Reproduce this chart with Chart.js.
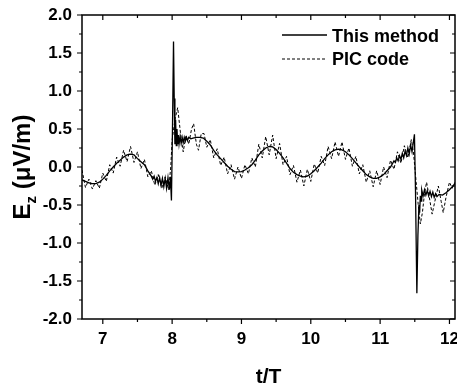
<!DOCTYPE html>
<html>
<head>
<meta charset="utf-8">
<script src="https://cdn.jsdelivr.net/npm/chart.js@4/dist/chart.umd.min.js"></script>
<style>
  html, body { margin: 0; padding: 0; background: #fff; }
  #wrap { width: 457px; height: 383px; }
</style>
</head>
<body>
<div id="wrap"><canvas id="ezChart" width="457" height="383"></canvas></div>
<script>
// "This method" (solid)
const methodT = [
  6.70, 6.75, 6.80, 6.85, 6.90, 6.95, 7.00, 7.05, 7.10, 7.15, 7.20, 7.25, 7.30, 7.35, 7.40, 7.45,
  7.50, 7.55, 7.60, 7.65, 7.70, 7.72, 7.74, 7.76, 7.78, 7.80, 7.82, 7.84, 7.86, 7.88, 7.90, 7.92,
  7.94, 7.96, 7.975, 7.99, 8.005, 8.02, 8.03, 8.04, 8.05, 8.06, 8.07, 8.08, 8.09, 8.10, 8.115, 8.13,
  8.145, 8.16, 8.175, 8.19, 8.205, 8.22, 8.24, 8.27, 8.30, 8.35, 8.40, 8.45, 8.50, 8.55, 8.60, 8.65,
  8.70, 8.75, 8.80, 8.85, 8.90, 8.95, 9.00, 9.05, 9.10, 9.15, 9.20, 9.25, 9.30, 9.35, 9.40, 9.45,
  9.50, 9.55, 9.60, 9.65, 9.70, 9.75, 9.80, 9.85, 9.90, 9.95, 10.00, 10.05, 10.10, 10.15, 10.20, 10.25,
  10.30, 10.35, 10.40, 10.45, 10.50, 10.55, 10.60, 10.65, 10.70, 10.75, 10.80, 10.85, 10.90, 10.95, 11.00, 11.05,
  11.10, 11.15, 11.20, 11.22, 11.24, 11.26, 11.28, 11.30, 11.32, 11.34, 11.36, 11.38, 11.40, 11.42, 11.44, 11.46,
  11.48, 11.495, 11.51, 11.53, 11.545, 11.56, 11.57, 11.58, 11.59, 11.60, 11.62, 11.64, 11.66, 11.68, 11.70, 11.72,
  11.74, 11.76, 11.78, 11.80, 11.82, 11.85, 11.90, 11.95, 12.00, 12.05, 12.08
];
const methodE = [
  -0.17, -0.19, -0.21, -0.22, -0.22, -0.20, -0.16, -0.11, -0.05, 0.00, 0.05, 0.09, 0.13, 0.16, 0.17, 0.16,
  0.11, 0.07, 0.03, -0.05, -0.12, -0.16, -0.12, -0.19, -0.14, -0.22, -0.14, -0.24, -0.15, -0.26, -0.15, -0.28,
  -0.14, -0.30, -0.13, -0.44, 0.50, 1.65, 0.90, 0.30, 0.62, 0.28, 0.50, 0.30, 0.42, 0.30, 0.40, 0.31,
  0.39, 0.32, 0.39, 0.34, 0.39, 0.35, 0.39, 0.37, 0.38, 0.39, 0.39, 0.38, 0.34, 0.29, 0.22, 0.16,
  0.11, 0.06, 0.01, -0.03, -0.06, -0.065, -0.06, -0.04, -0.01, 0.03, 0.09, 0.16, 0.21, 0.25, 0.27, 0.265,
  0.23, 0.18, 0.12, 0.05, -0.02, -0.07, -0.10, -0.12, -0.13, -0.12, -0.09, -0.05, 0.00, 0.05, 0.11, 0.16,
  0.20, 0.225, 0.235, 0.225, 0.20, 0.16, 0.11, 0.055, 0.00, -0.05, -0.10, -0.13, -0.15, -0.15, -0.13, -0.10,
  -0.05, 0.00, 0.08, 0.06, 0.12, 0.08, 0.15, 0.10, 0.18, 0.12, 0.21, 0.15, 0.25, 0.17, 0.29, 0.20,
  0.33, 0.43, -0.30, -1.66, -0.90, -0.50, -0.60, -0.38, -0.45, -0.30, -0.38, -0.30, -0.37, -0.31, -0.38, -0.32,
  -0.39, -0.33, -0.40, -0.35, -0.39, -0.36, -0.37, -0.34, -0.30, -0.25, -0.22
];

// "PIC code" (dashed)
const picT = [
  6.70, 6.75, 6.80, 6.85, 6.90, 6.95, 7.00, 7.05, 7.10, 7.15, 7.20, 7.25, 7.30, 7.35, 7.40, 7.45,
  7.50, 7.55, 7.60, 7.65, 7.70, 7.75, 7.80, 7.85, 7.90, 7.95, 7.98, 8.00, 8.04, 8.08, 8.12, 8.16,
  8.20, 8.24, 8.28, 8.31, 8.35, 8.38, 8.42, 8.46, 8.50, 8.55, 8.60, 8.65, 8.70, 8.75, 8.80, 8.85,
  8.90, 8.95, 9.00, 9.05, 9.10, 9.15, 9.20, 9.25, 9.30, 9.35, 9.40, 9.45, 9.50, 9.55, 9.60, 9.65,
  9.70, 9.75, 9.80, 9.85, 9.90, 9.95, 10.00, 10.05, 10.10, 10.15, 10.20, 10.25, 10.30, 10.35, 10.40, 10.45,
  10.50, 10.55, 10.60, 10.65, 10.70, 10.75, 10.80, 10.85, 10.90, 10.95, 11.00, 11.05, 11.10, 11.15, 11.20, 11.25,
  11.30, 11.35, 11.40, 11.45, 11.48, 11.50, 11.52, 11.55, 11.58, 11.61, 11.64, 11.67, 11.71, 11.75, 11.79, 11.84,
  11.88, 11.91, 11.95, 12.00, 12.04, 12.08
];
const picE = [
  -0.04, -0.27, -0.16, -0.29, -0.18, -0.28, -0.08, -0.19, 0.03, -0.08, 0.13, 0.01, 0.22, 0.07, 0.27, 0.06,
  0.20, -0.02, 0.10, -0.13, -0.05, -0.24, -0.10, -0.28, -0.13, -0.30, 0.00, 0.35, 0.62, 0.78, 0.45, 0.20,
  0.42, 0.30, 0.50, 0.57, 0.30, 0.22, 0.44, 0.44, 0.26, 0.36, 0.12, 0.24, 0.02, 0.13, -0.09, 0.03,
  -0.16, 0.00, -0.15, 0.03, -0.09, 0.12, 0.00, 0.30, 0.12, 0.40, 0.16, 0.42, 0.11, 0.31, 0.03, 0.14,
  -0.10, 0.02, -0.20, -0.04, -0.25, -0.03, -0.19, 0.04, -0.08, 0.14, 0.02, 0.27, 0.11, 0.33, 0.14, 0.33,
  0.10, 0.25, 0.01, 0.14, -0.09, 0.03, -0.20, -0.05, -0.26, -0.05, -0.23, 0.00, -0.14, 0.09, -0.03, 0.20,
  0.05, 0.28, 0.12, 0.36, 0.20, 0.00, -0.20, -0.50, -0.75, -0.60, -0.35, -0.20, -0.40, -0.62, -0.45, -0.25,
  -0.45, -0.60, -0.40, -0.20, -0.28, -0.20
];

const xTickValues = [7, 8, 9, 10, 11, 12];
const yTickValues = [-2.0, -1.5, -1.0, -0.5, 0.0, 0.5, 1.0, 1.5, 2.0];
const xTitle = "t/T";
const yTitleMain = "E";
const yTitleSub = "z";
const yTitleUnit = " (\u03bcV/m)";

const FONT = "'Liberation Sans', Arial, sans-serif";

const framePlugin = {
  id: "frame",
  afterDraw(chart) {
    const ctx = chart.ctx;
    const a = chart.chartArea;
    const xs = chart.scales.x, ys = chart.scales.y;
    ctx.save();
    ctx.strokeStyle = "#000";
    ctx.lineWidth = 1.5;
    ctx.strokeRect(a.left, a.top, a.right - a.left, a.bottom - a.top);

    ctx.lineWidth = 1.2;
    const tickX = (v, len) => {
      const px = xs.getPixelForValue(v);
      ctx.beginPath();
      ctx.moveTo(px, a.bottom); ctx.lineTo(px, a.bottom + len);
      ctx.moveTo(px, a.top); ctx.lineTo(px, a.top + len);
      ctx.stroke();
    };
    const tickY = (v, len) => {
      const py = ys.getPixelForValue(v);
      ctx.beginPath();
      ctx.moveTo(a.left, py); ctx.lineTo(a.left - len, py);
      ctx.moveTo(a.right, py); ctx.lineTo(a.right - len, py);
      ctx.stroke();
    };
    xTickValues.forEach((v, i) => {
      tickX(v, 5);
      if (i < xTickValues.length - 1) tickX((v + xTickValues[i + 1]) / 2, 3);
    });
    yTickValues.forEach((v, i) => {
      tickY(v, 5);
      if (i < yTickValues.length - 1) tickY((v + yTickValues[i + 1]) / 2, 3);
    });

    // legend
    const ds = chart.data.datasets;
    const lx0 = 282, lx1 = 327;
    [[35, 41.5], [59, 65]].forEach(([ly, by], i) => {
      ctx.beginPath();
      ctx.lineWidth = ds[i].borderWidth;
      ctx.setLineDash(ds[i].borderDash || []);
      ctx.moveTo(lx0, ly); ctx.lineTo(lx1, ly);
      ctx.stroke();
      ctx.setLineDash([]);
      ctx.fillStyle = "#000";
      ctx.font = "bold 18px " + FONT;
      ctx.textAlign = "left";
      ctx.textBaseline = "alphabetic";
      ctx.fillText(ds[i].label, 332, by);
    });

    // x title
    ctx.font = "bold 21px " + FONT;
    ctx.textAlign = "center";
    ctx.fillText(xTitle, (a.left + a.right) / 2, 383);

    // y title with subscript
    const big = "bold 24px " + FONT, small = "bold 15px " + FONT;
    ctx.font = big;
    const wE = ctx.measureText(yTitleMain).width;
    const wU = ctx.measureText(yTitleUnit).width;
    ctx.font = small;
    const wZ = ctx.measureText(yTitleSub).width;
    const total = wE + wZ + wU;
    ctx.translate(30, (a.top + a.bottom) / 2);
    ctx.rotate(-Math.PI / 2);
    ctx.textAlign = "left";
    let x = -total / 2;
    ctx.font = big; ctx.fillText(yTitleMain, x, 0); x += wE;
    ctx.font = small; ctx.fillText(yTitleSub, x, 6); x += wZ;
    ctx.font = big; ctx.fillText(yTitleUnit, x, 0);
    ctx.restore();
  }
};

new Chart(document.getElementById("ezChart"), {
  type: "line",
  data: {
    datasets: [
      {
        label: "This method",
        data: methodT.map((t, i) => ({ x: t, y: methodE[i] })),
        borderColor: "#000",
        borderWidth: 1.3,
        pointRadius: 0,
        tension: 0,
        fill: false
      },
      {
        label: "PIC code",
        data: picT.map((t, i) => ({ x: t, y: picE[i] })),
        borderColor: "#000",
        borderWidth: 1,
        borderDash: [3, 2],
        pointRadius: 0,
        tension: 0,
        fill: false
      }
    ]
  },
  options: {
    responsive: false,
    animation: false,
    events: [],
    layout: { padding: { left: 0, right: 2, top: 15, bottom: 0 } },
    plugins: { legend: { display: false }, tooltip: { enabled: false } },
    scales: {
      x: {
        type: "linear",
        min: 6.7,
        max: 12.08,
        afterBuildTicks: s => { s.ticks = xTickValues.map(v => ({ value: v })); },
        afterFit: s => { s.height = 64; s.paddingLeft = 0; s.paddingRight = 0; },
        grid: { display: false, drawTicks: false },
        border: { display: false },
        ticks: {
          padding: 10,
          color: "#000",
          font: { family: FONT, size: 17, weight: "bold" },
          callback: v => String(v)
        }
      },
      y: {
        type: "linear",
        min: -2,
        max: 2,
        afterBuildTicks: s => { s.ticks = yTickValues.map(v => ({ value: v })); },
        afterFit: s => { s.width = 82; s.paddingTop = 0; s.paddingBottom = 0; },
        grid: { display: false, drawTicks: false },
        border: { display: false },
        ticks: {
          padding: 10,
          color: "#000",
          font: { family: FONT, size: 17, weight: "bold" },
          callback: v => Number(v).toFixed(1)
        }
      }
    }
  },
  plugins: [framePlugin]
});
</script>
</body>
</html>
